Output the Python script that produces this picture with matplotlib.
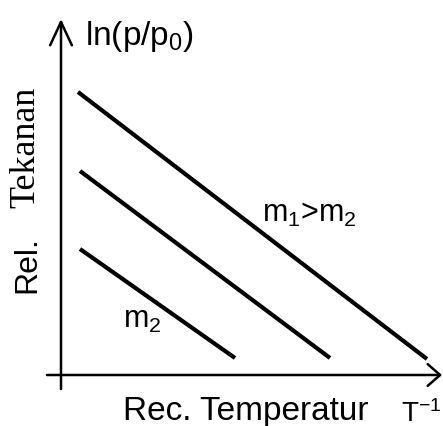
import matplotlib
matplotlib.use('Agg')
import matplotlib.pyplot as plt

# schematic values (x = 1/T, y = ln(p/p0), arbitrary units)
x_start = [17, 19, 19]
y_start = [283, 204, 126]
x_end = [366, 269, 174]
y_end = [16, 17, 17]

plt.rcParams['mathtext.fontset'] = 'custom'
plt.rcParams['mathtext.rm'] = 'Liberation Sans'
plt.rcParams['mathtext.it'] = 'Liberation Sans:italic'
plt.rcParams['font.family'] = ['Liberation Sans', 'DejaVu Sans']

fig = plt.figure(figsize=(4.43, 4.27), dpi=100)
ax = fig.add_axes([0, 0, 1, 1])
ax.set_xlim(-61, 382)
ax.set_ylim(-51, 376)
ax.axis('off')

for i in range(len(x_start)):
    ax.plot([x_start[i], x_end[i]], [y_start[i], y_end[i]], color='black', lw=3, solid_capstyle='butt')

# axes with open arrow heads
ax.annotate('', xy=(381, 0), xytext=(-14, 0),
            arrowprops=dict(arrowstyle='->,head_length=0.32,head_width=0.28', lw=1.8, color='black', mutation_scale=28, shrinkA=0, shrinkB=0))
ax.annotate('', xy=(0, 356), xytext=(0, -14),
            arrowprops=dict(arrowstyle='->,head_length=0.6,head_width=0.28', lw=1.8, color='black', mutation_scale=28, shrinkA=0, shrinkB=0))

fs = 22
ax.text(24, 331, 'ln(p/p$_0$)', fontsize=24, ha='left', va='baseline')
ax.text(201, 154, 'm$_1$>m$_2$', fontsize=fs, ha='left', va='baseline')
ax.text(62, 48, 'm$_2$', fontsize=fs, ha='left', va='baseline')
ax.text(62, -44, 'Rec. Temperatur', fontsize=24, ha='left', va='baseline')
ax.text(340, -46, 'T$^{-1}$', fontsize=20, ha='left', va='baseline')
ax.text(-26, 83, 'Rel.', fontsize=23, rotation=90, rotation_mode='anchor', ha='left', va='baseline')
ax.text(-27, 168, 'Tekanan', fontsize=26, family='Liberation Serif', rotation=90, rotation_mode='anchor', ha='left', va='baseline')

plt.savefig('out.png', dpi=100)
